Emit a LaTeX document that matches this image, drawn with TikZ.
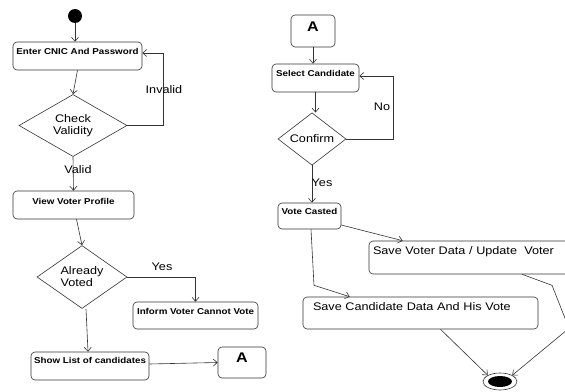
\documentclass[tikz,border=0pt]{standalone}
\usepackage{fontspec}
\setmainfont[FakeStretch=1.15]{Liberation Sans}
\usetikzlibrary{shapes.geometric, arrows.meta}

\begin{document}
\begin{tikzpicture}[
  x=1pt, y=-1pt,
  box/.style={draw=black!80, rounded corners=4pt, inner xsep=2pt, inner ysep=0pt,
              font=\bfseries\fontsize{8.5}{10}\selectfont, align=center, line width=0.6pt},
  plainbox/.style={box, font=\fontsize{11}{12}\selectfont, align=left},
  choice/.style={draw=black!80, diamond, inner sep=0pt, align=center,
                 font=\fontsize{11}{12}\selectfont, line width=0.6pt},
  guard/.style={font=\fontsize{11}{12}\selectfont, inner sep=0pt},
  arrow/.style={-{Straight Barb[length=4pt,width=7pt]}, draw=black!80, line width=0.6pt}
]
\useasboundingbox (0,0) rectangle (565,391);
\clip (0,0) rectangle (565,391);

% left column
\node[circle, fill=black, minimum size=14pt, inner sep=0pt] (start) at (75,16) {};
\node[box, minimum width=129pt, text height=12pt, text depth=16pt] (enter) at (77.5,56) {Enter CNIC And Password};
\node[choice, minimum width=108pt, minimum height=55pt] (check) at (73,125.5) {Check\\Validity};
\node[box, minimum width=121pt, text height=13pt, text depth=15pt] (view) at (73.5,205) {View Voter Profile};
\node[choice, minimum width=90pt, minimum height=60pt, align=left] (already) at (82,277) {Already\\Voted};
\node[box, minimum width=125pt, text height=12pt, text depth=15pt] (inform) at (195.5,315.5) {Inform Voter Cannot Vote};
\node[box, minimum width=118pt, text height=11pt, text depth=17pt] (showlist) at (90,366) {Show List of candidates};
\node[box, minimum width=48pt, text height=15pt, text depth=16pt, font=\bfseries\fontsize{14}{14}\selectfont] (linkout) at (242,362.5) {A};

% right column
\node[box, minimum width=44pt, text height=16pt, text depth=16pt, font=\bfseries\fontsize{14}{14}\selectfont] (linkin) at (313,31) {A};
\node[box, minimum width=87pt, text height=12pt, text depth=16pt] (select) at (315.5,78) {Select Candidate};
\node[choice, minimum width=68pt, minimum height=48pt] (confirm) at (312,139) {Confirm};
\node[box, minimum width=63pt, text height=11pt, text depth=15pt] (casted) at (309.5,216) {Vote Casted};
\node[plainbox, inner xsep=4pt, text width=213pt, text height=13pt, text depth=20pt] (savevoter) at (479.5,257.5) {Save Voter Data / Update\ \ Voter};
\node[plainbox, inner xsep=10pt, text width=215pt, text height=13pt, text depth=19pt] (savecand) at (420.5,313) {Save Candidate Data And His Vote};
\node[draw=black!80, ellipse, minimum width=34pt, minimum height=17pt, inner sep=0pt, line width=0.6pt] (finish) at (500,381.5) {};
\node[fill=black, ellipse, minimum width=24pt, minimum height=11pt, inner sep=0pt] (finishdot) at (finish) {};

% left flow
\draw[arrow] (start) -- (start |- enter.north);
\draw[arrow] (enter.south) -- (check.north);
\draw[arrow] (check.east) -- ++(36,0) |- ([yshift=3pt]enter.east);
\node[guard] (invalid) at (164,90) {Invalid};
\draw[arrow] (check.south) -- (view.north);
\node[guard] (valid) at (78,170) {Valid};
\draw[arrow] ([xshift=3pt]view.south) -- (already.north);
\draw[arrow] (already.east) -| (inform.north);
\node[guard] (yesleft) at (162,267) {Yes};
\draw[arrow] ([xshift=4pt]already.south) -- ([xshift=-2pt]showlist.north);
\draw[arrow] ([yshift=2pt]showlist.east) -- (linkout.west);

% right flow
\draw[arrow] (linkin.south) -- (linkin.south |- select.north);
\draw[arrow] (select.south) -- (select.south |- confirm.north);
\draw[arrow] (confirm.east) -- ++(47,0) |- ([yshift=2pt]select.east);
\node[guard] (no) at (382,107) {No};
\draw[arrow] (confirm.south) -- (confirm.south |- casted.north);
\node[guard] (yesright) at (322,183) {Yes};
\draw[arrow] ([yshift=-9pt]casted.east) -- ([xshift=34pt]savevoter.north west);
\draw[arrow] ([xshift=1.5pt]casted.south) -- ++(3,56) -- ([xshift=47pt]savecand.north west);
\draw[arrow] ([xshift=20pt]savecand.south) -- (finish.north west);
\draw[arrow] ([xshift=42.5pt]savevoter.south) -- ++(30,11) -- ++(17,43) -- (finish.north east);
\end{tikzpicture}
\end{document}
